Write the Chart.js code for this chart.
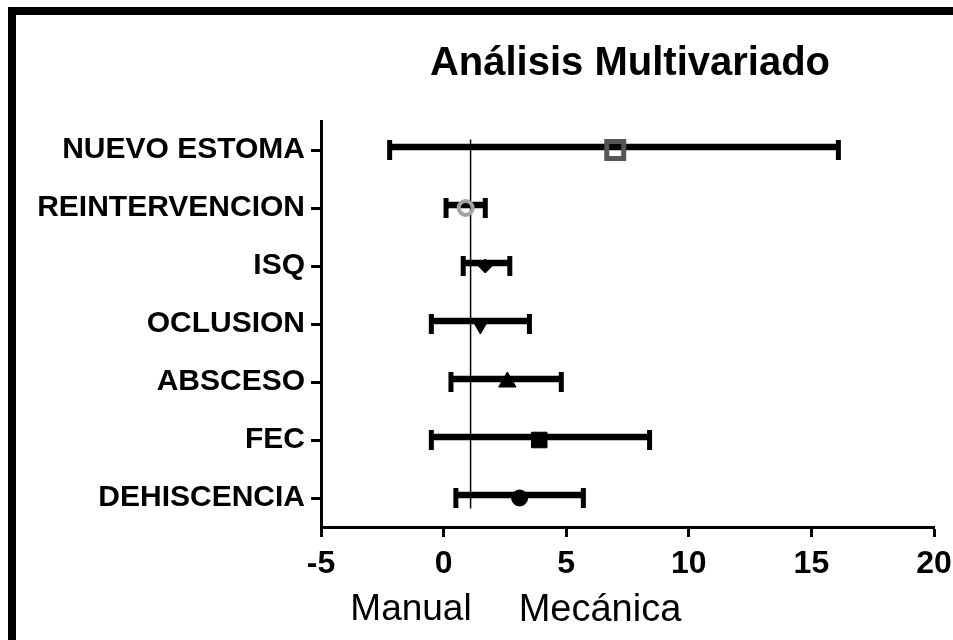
<!DOCTYPE html>
<html>
<head>
<meta charset="utf-8">
<script src="https://cdn.jsdelivr.net/npm/chart.js@4"></script>
<style>
    body { margin: 0; background: #fff; font-family: 'Liberation Sans', Arial, sans-serif; }
    #wrap { position: relative; width: 953px; height: 640px; overflow: hidden; }
    #frame { position: absolute; left: 8px; top: 7px; right: 0; bottom: 0; border-top: 8px solid #000; border-left: 8px solid #000; }
    #plot { position: absolute; left: 0; top: 0; }
    .txt { position: absolute; line-height: 1; color: #000; white-space: nowrap; text-align: center; }
    #title { left: 321px; width: 618px; top: 41px; font-size: 40px; font-weight: bold; }
    #manual { left: 331px; width: 160px; top: 589px; font-size: 37px; }
    #mecanica { left: 500px; width: 200px; top: 589px; font-size: 38px; }
</style>
</head>
<body>
<div id="wrap">
    <div id="frame"></div>
    <canvas id="plot" width="1000" height="640"></canvas>
    <div class="txt" id="title">Análisis Multivariado</div>
    <div class="txt" id="manual">Manual</div>
    <div class="txt" id="mecanica">Mecánica</div>
</div>
<script>
// values
const categories = ['NUEVO ESTOMA', 'REINTERVENCION', 'ISQ', 'OCLUSION', 'ABSCESO', 'FEC', 'DEHISCENCIA'];
const estimate = [7.0, 0.9, 1.7, 1.5, 2.6, 3.9, 3.1];
const lower = [-2.2, 0.1, 0.8, -0.5, 0.3, -0.5, 0.5];
const upper = [16.1, 1.7, 2.7, 3.5, 4.8, 8.4, 5.7];
const xTicks = [-5, 0, 5, 10, 15, 20];
const refLine = 1.1;

// marker look per row
const markerStyle = ['rect', 'circle', 'rectRot', 'triangle', 'triangle', 'rect', 'circle'];
const markerSize = [12, 7, 7, 10, 10, 11, 8];
const markerRot = [0, 0, 0, 180, 0, 0, 0];
const markerFill = ['rgba(0,0,0,0)', 'rgba(0,0,0,0)', '#000', '#000', '#000', '#000', '#000'];
const markerLine = ['#555', '#a3a3a3', '#000', '#000', '#000', '#000', '#000'];
const markerWidth = [5, 4, 1, 1, 1, 1, 1];

Chart.defaults.font.family = "'Liberation Sans', Arial, sans-serif";
Chart.defaults.color = '#000';

const ctx = document.getElementById('plot').getContext('2d');

const forest = new Chart(ctx, {
    type: 'bar',
    data: {
        labels: categories,
        datasets: [
            {
                // error bar body
                label: 'IC',
                data: categories.map((c, i) => [lower[i], upper[i]]),
                backgroundColor: '#000',
                barThickness: 6,
                order: 3
            },
            {
                // caps at both ends
                type: 'line',
                label: 'caps',
                data: categories.flatMap((c, i) => [{ x: lower[i], y: c }, { x: upper[i], y: c }]),
                showLine: false,
                pointStyle: 'line',
                pointRotation: 90,
                pointRadius: 10,
                pointBorderWidth: 5,
                pointBorderColor: '#000',
                order: 2
            },
            {
                type: 'line',
                label: 'estimate',
                data: categories.map((c, i) => ({ x: estimate[i], y: c })),
                showLine: false,
                pointStyle: markerStyle,
                pointRadius: markerSize,
                pointRotation: markerRot,
                pointBackgroundColor: markerFill,
                pointBorderColor: markerLine,
                pointBorderWidth: markerWidth,
                order: 1
            },
            {
                type: 'line',
                label: 'ref',
                yAxisID: 'y2',
                data: [{ x: refLine, y: 0 }, { x: refLine, y: 1 }],
                borderColor: '#000',
                borderWidth: 1.5,
                pointRadius: 0,
                order: 4
            }
        ]
    },
    options: {
        indexAxis: 'y',
        responsive: false,
        animation: false,
        layout: { padding: { top: 121, right: 66, left: 0, bottom: 0 } },
        plugins: {
            legend: { display: false },
            tooltip: { enabled: false },
            title: { display: false }
        },
        scales: {
            x: {
                type: 'linear',
                min: -5,
                max: 20,
                afterBuildTicks: (axis) => { axis.ticks = xTicks.map(v => ({ value: v })); },
                afterFit: (axis) => { axis.height = 113; },
                border: { display: true, width: 3, color: '#000' },
                grid: { drawOnChartArea: false, drawTicks: true, tickLength: 10, tickWidth: 3, tickColor: '#000' },
                ticks: { padding: 8, font: { size: 32, weight: 'bold' }, color: '#000' }
            },
            y: {
                type: 'category',
                offset: true,
                afterFit: (axis) => { axis.width = 321; },
                border: { display: true, width: 3, color: '#000' },
                grid: { offset: false, drawOnChartArea: false, drawTicks: true, tickLength: 10, tickWidth: 3, tickColor: '#000' },
                ticks: { padding: 6, font: { size: 30, weight: 'bold' }, color: '#000' }
            },
            y2: {
                type: 'linear',
                min: 0,
                max: 1,
                display: false
            }
        }
    }
});
</script>
</body>
</html>
